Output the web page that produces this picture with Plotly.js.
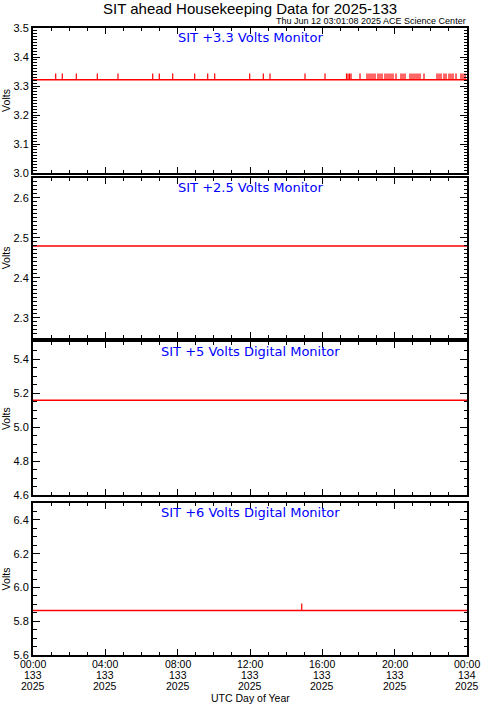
<!DOCTYPE html>
<html>
<head>
<meta charset="utf-8">
<script src="https://cdn.plot.ly/plotly-3.0.1.min.js"></script>
<style>html,body{margin:0;padding:0;background:#fff;}#chart{width:481px;height:706px;}</style>
</head>
<body>
<div id="chart"></div>
<script>
// ---- data (hours UTC of day 133, 2025) ----
const panelTitles = ["SIT +3.3 Volts Monitor", "SIT +2.5 Volts Monitor", "SIT +5 Volts Digital Monitor", "SIT +6 Volts Digital Monitor"];
const baseline33 = 3.322;
const spike33 = 3.343;
const spikeTimes33 = [1.255, 1.620, 2.394, 3.556, 4.700, 6.619, 6.984, 7.725, 8.942, 9.661, 10.048, 11.984, 12.736, 13.106,
  15.042, 16.148, 17.337, 17.420, 17.503, 17.586, 18.084, 18.471, 18.581, 18.692, 18.803, 18.913, 19.079, 19.189, 19.300,
  19.466, 19.577, 19.687, 19.798, 19.908, 20.074, 20.351, 20.461, 20.572, 20.848, 20.959, 21.069, 21.180, 21.290, 21.401,
  21.622, 22.341, 22.452, 22.562, 22.728, 22.839, 23.005, 23.115, 23.226, 23.392, 23.668, 23.779, 23.890];
const baseline25 = 2.480;
const baseline5 = 5.158;
const baseline6 = 5.863;
const spike6 = 5.905;
const spikeTimes6 = [14.86];
const timeRange = [0, 24];
const tickHours = [0, 4, 8, 12, 16, 20, 24];
const tickClock = ["00:00", "04:00", "08:00", "12:00", "16:00", "20:00", "00:00"];
const tickDoy = ["133", "133", "133", "133", "133", "133", "134"];
const tickYear = ["2025", "2025", "2025", "2025", "2025", "2025", "2025"];
const yRanges = [[3.0, 3.5], [2.25, 2.65], [4.6, 5.5], [5.6, 6.5]];
const yMajor = [0.1, 0.1, 0.2, 0.2];
const yMinor = [0.01, 0.01, 0.05, 0.05];

// ---- build traces ----
const red = "#ff0000";
function baseTrace(val, ax) {
  return {x: timeRange, y: [val, val], xaxis: "x" + ax, yaxis: "y" + ax, mode: "lines",
    line: {color: red, width: 1.5}, hoverinfo: "skip", showlegend: false};
}
function spikeTrace(times, base, top, ax) {
  const xs = [], ys = [];
  times.forEach(t => { xs.push(t, t, null); ys.push(base, top, null); });
  return {x: xs, y: ys, xaxis: "x" + ax, yaxis: "y" + ax, mode: "lines",
    line: {color: red, width: 1.2}, hoverinfo: "skip", showlegend: false};
}
const data = [
  baseTrace(baseline33, ""), spikeTrace(spikeTimes33, baseline33, spike33, ""),
  baseTrace(baseline25, "2"),
  baseTrace(baseline5, "3"),
  baseTrace(baseline6, "4"), spikeTrace(spikeTimes6, baseline6, spike6, "4")
];

const fam = "Liberation Sans, Arial, sans-serif";
const font = {family: fam, color: "#000"};
const domains = [[0.7687, 1.0], [0.5056, 0.7608], [0.2544, 0.4992], [0.0, 0.2424]];
const layout = {
  width: 481, height: 706,
  margin: {l: 33, r: 14, t: 28, b: 51},
  paper_bgcolor: "#fff", plot_bgcolor: "#fff",
  font: Object.assign({size: 11}, font),
  showlegend: false,
  annotations: [],
};
for (let i = 0; i < 4; i++) {
  const sfx = i === 0 ? "" : String(i + 1);
  layout["xaxis" + sfx] = {
    anchor: "y" + sfx, domain: [0, 1], range: timeRange, fixedrange: true,
    tickmode: "array", tickvals: tickHours, ticktext: tickClock,
    showticklabels: false,
    ticks: "inside", ticklen: 6, tickwidth: 1, tickcolor: "#000",
    minor: {dtick: 1, ticks: "inside", ticklen: 3, tickwidth: 1, tickcolor: "#000", showgrid: false},
    showline: true, linecolor: "#000", linewidth: 2, mirror: "allticks",
    showgrid: false, zeroline: false
  };
  if (i > 0) layout["xaxis" + sfx].matches = "x";
  layout["yaxis" + sfx] = {
    anchor: "x" + sfx, domain: domains[i], range: yRanges[i], fixedrange: true,
    tickmode: "linear", tick0: 0, dtick: yMajor[i], tickformat: ".1f",
    ticks: "inside", ticklen: 7, tickwidth: 1, tickcolor: "#000",
    minor: {dtick: yMinor[i], tick0: 0, ticks: "inside", ticklen: 3.5, tickwidth: 1, tickcolor: "#000", showgrid: false},
    showline: true, linecolor: "#000", linewidth: 2, mirror: "allticks",
    showgrid: false, zeroline: false,
    tickfont: Object.assign({size: 11}, font),
    title: {text: "Volts", font: Object.assign({size: 10.5}, font), standoff: 4}
  };
  layout.annotations.push({
    text: panelTitles[i], xref: "paper", yref: "y" + sfx + " domain", x: 0.5, y: 1, yshift: 0,
    xanchor: "center", yanchor: "top", showarrow: false,
    font: {family: "DejaVu Sans, sans-serif", size: 13, color: "#0000ff"}
  });
}
// bottom time tick labels (three rows)
const rows = [tickClock, tickDoy, tickYear];
const rowShift = [-9, -19.5, -30.5];
rows.forEach((row, r) => {
  tickHours.forEach((h, k) => {
    layout.annotations.push({
      text: row[k], xref: "x4", yref: "paper", x: h, y: 0, yshift: rowShift[r],
      xanchor: "center", yanchor: "middle", showarrow: false, borderpad: 0,
      font: Object.assign({size: 10.5}, font)
    });
  });
});
layout.annotations.push({
  text: "UTC Day of Year", xref: "paper", yref: "paper", x: 0.5, y: 0, yshift: -43,
  xanchor: "center", yanchor: "middle", showarrow: false, borderpad: 0,
  font: Object.assign({size: 10.5}, font)
});
layout.annotations.push({
  text: "SIT ahead Housekeeping Data for 2025-133", xref: "paper", yref: "paper",
  x: 0.5, y: 1, yshift: 20, xanchor: "center", yanchor: "middle", showarrow: false,
  font: {family: fam, size: 15, color: "#000"}
});
layout.annotations.push({
  text: "Thu Jun 12 03:01:08 2025 ACE Science Center", xref: "paper", yref: "paper",
  x: 1, y: 1, yshift: 7, xanchor: "right", yanchor: "middle", showarrow: false, borderpad: 0,
  font: {family: fam, size: 9, color: "#000"}
});
Plotly.newPlot("chart", data, layout, {staticPlot: true, displayModeBar: false});
</script>
</body>
</html>
